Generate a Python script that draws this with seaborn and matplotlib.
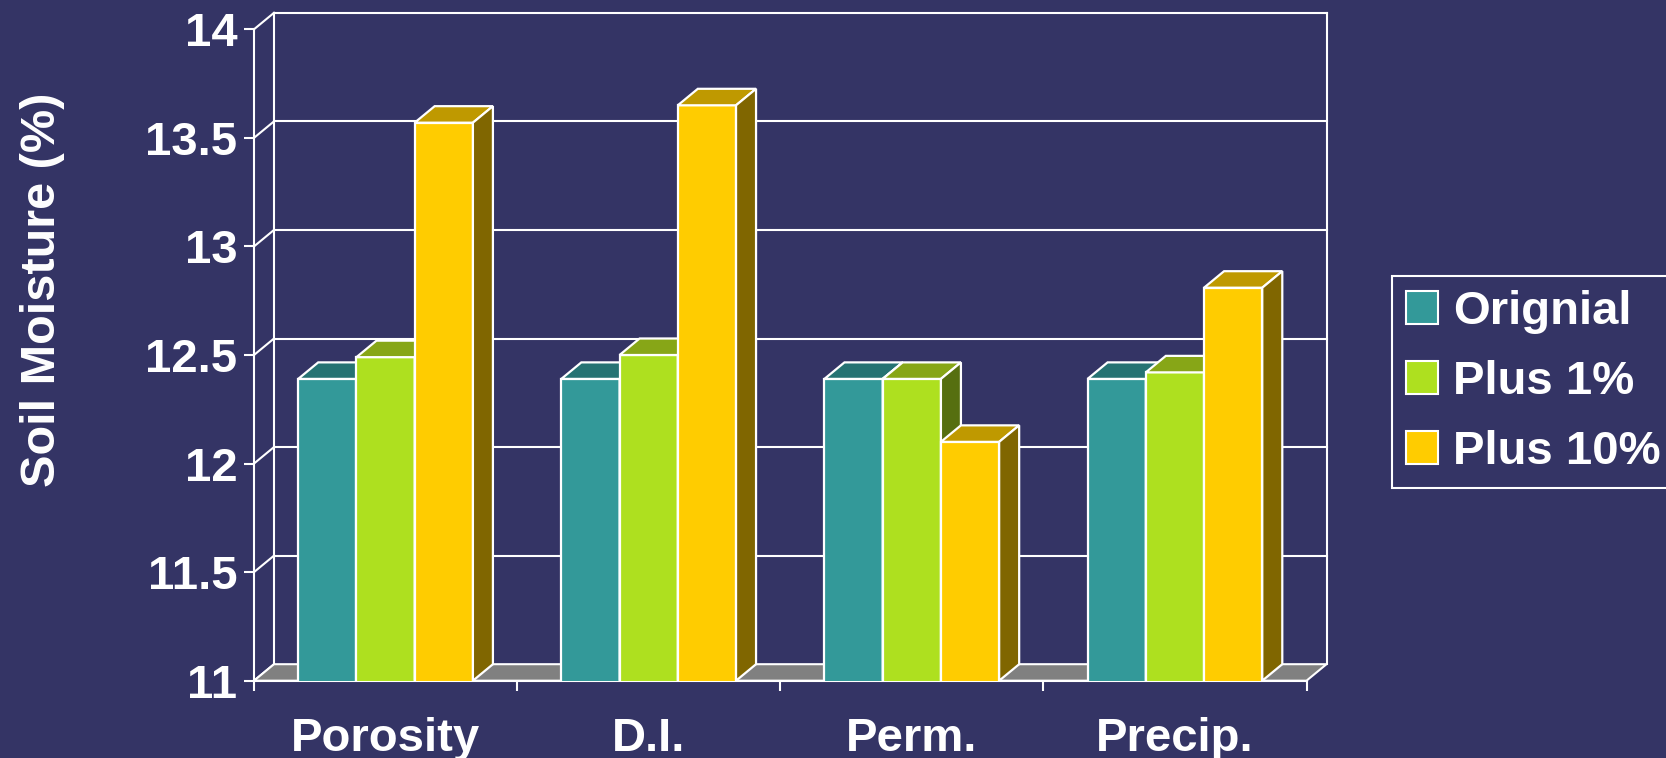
import numpy as np
import pandas as pd
import matplotlib
matplotlib.use("Agg")
import matplotlib.pyplot as plt
from matplotlib.patches import Polygon, Patch, Rectangle
from matplotlib.ticker import FixedLocator
import seaborn as sns

# ---- data ----
categories = ["Porosity", "D.I.", "Perm.", "Precip."]
series_names = ["Orignial", "Plus 1%", "Plus 10%"]
original = [12.39, 12.39, 12.39, 12.39]
plus_1 = [12.49, 12.50, 12.39, 12.42]
plus_10 = [13.57, 13.65, 12.10, 12.81]
y_ticks = [11, 11.5, 12, 12.5, 13, 13.5, 14]
y_tick_labels = ["11", "11.5", "12", "12.5", "13", "13.5", "14"]
y_label = "Soil Moisture (%)"

# ---- style ----
BG = "#343465"
FRONT = ["#339999", "#AEE01F", "#FFCC00"]
TOP = ["#267373", "#87A617", "#BF9900"]
SIDE = ["#1A4D4D", "#566F10", "#806600"]
FLOOR = "#808080"
WHITE = "white"
DEPTH_PX = (20.0, 16.5)   # oblique depth of the 3-D box, in pixels

sns.set_style("dark", {"axes.facecolor": BG, "figure.facecolor": BG})
plt.rcParams["font.family"] = ["Liberation Sans", "DejaVu Sans"]
plt.rcParams["font.weight"] = "bold"

W, H = 1666, 758
fig = plt.figure(figsize=(W / 100, H / 100), dpi=100, facecolor=BG)
left_px, right_px, top_px, bottom_px = 254, 1306.5, 29.3, 680.7
ax = fig.add_axes([left_px / W, 1 - bottom_px / H,
                   (right_px - left_px) / W, (bottom_px - top_px) / H])
ax.set_facecolor(BG)

df = pd.DataFrame({
    "category": np.repeat(categories, len(series_names)),
    "series": series_names * len(categories),
    "value": np.ravel(np.column_stack([original, plus_1, plus_10])),
})

sns.barplot(data=df, x="category", y="value", hue="series",
            hue_order=series_names, order=categories,
            palette=FRONT, width=0.664, errorbar=None,
            edgecolor=WHITE, linewidth=1.6, saturation=1,
            legend=False, ax=ax)

# bar rectangles created by seaborn, ordered left to right
bars = [p for p in ax.patches if isinstance(p, Rectangle) and p.get_width() > 0]
bars.sort(key=lambda p: p.get_x())

ymin, ymax = 11, 14
xmin, xmax = -0.5, len(categories) - 0.5
ax.set_xlim(xmin, xmax)
ax.set_ylim(ymin, ymax)

# depth offset converted into data units
bbox = ax.get_window_extent()
dx = DEPTH_PX[0] * (xmax - xmin) / bbox.width
dy = DEPTH_PX[1] * (ymax - ymin) / bbox.height

line_kw = dict(color=WHITE, lw=1.5, clip_on=False, solid_capstyle="projecting")

# floor
ax.add_patch(Polygon([(xmin, ymin), (xmax, ymin), (xmax + dx, ymin + dy),
                      (xmin + dx, ymin + dy)], closed=True, facecolor=FLOOR,
                     edgecolor=WHITE, lw=1.5, clip_on=False, zorder=1))

# back wall grid lines, side walls
for v in y_ticks:
    if v > ymin:
        ax.plot([xmin + dx, xmax + dx], [v + dy, v + dy], zorder=0.5, **line_kw)
    ax.plot([xmin, xmin + dx], [v, v + dy], zorder=0.5, **line_kw)
ax.plot([xmin + dx, xmin + dx], [ymin + dy, ymax + dy], zorder=0.5, **line_kw)
ax.plot([xmax + dx, xmax + dx], [ymin + dy, ymax + dy], zorder=0.5, **line_kw)

# 3-D tops and right sides of the bars, drawn left to right
front_hex = [c.lower() for c in FRONT]
for k, bar in enumerate(bars):
    x0 = bar.get_x()
    x1 = x0 + bar.get_width()
    h = bar.get_y() + bar.get_height()
    idx = front_hex.index(matplotlib.colors.to_hex(bar.get_facecolor()).lower())
    z = 3 + 0.01 * k
    bar.set_zorder(z)
    ax.add_patch(Polygon([(x0, h), (x1, h), (x1 + dx, h + dy), (x0 + dx, h + dy)],
                         closed=True, facecolor=TOP[idx], edgecolor=WHITE,
                         lw=1.6, clip_on=False, zorder=z, joinstyle="miter"))
    ax.add_patch(Polygon([(x1, ymin), (x1, h), (x1 + dx, h + dy), (x1 + dx, ymin + dy)],
                         closed=True, facecolor=SIDE[idx], edgecolor=WHITE,
                         lw=1.6, clip_on=False, zorder=z, joinstyle="miter"))

# axes lines and ticks
for s in ["top", "right"]:
    ax.spines[s].set_visible(False)
for s in ["left", "bottom"]:
    ax.spines[s].set_color(WHITE)
    ax.spines[s].set_linewidth(1.5)
    ax.spines[s].set_zorder(2)

ax.set_yticks(y_ticks)
ax.set_yticklabels(y_tick_labels)
ax.xaxis.set_minor_locator(FixedLocator(np.arange(xmin, xmax + 0.01, 1.0)))
ax.tick_params(axis="y", colors=WHITE, length=7.5, width=1.5, pad=4.5,
               labelsize=34, left=True)
ax.tick_params(axis="x", which="major", length=0, pad=26, labelsize=34,
               labelcolor=WHITE)
ax.tick_params(axis="x", which="minor", length=7.5, width=1.5, color=WHITE,
               bottom=True)
for lab in ax.get_xticklabels() + ax.get_yticklabels():
    lab.set_fontweight("bold")
    lab.set_color(WHITE)
ax.set_xlabel("")
ax.set_ylabel("")
ax.grid(False)

fig.text(43 / W, 1 - 290 / H, y_label, rotation=90, ha="center", va="center",
         fontsize=35, fontweight="bold", color=WHITE)

handles = [Patch(facecolor=c, edgecolor=WHITE, lw=1.5) for c in FRONT]
leg = fig.legend(handles, series_names, loc="center left",
                 bbox_to_anchor=(1392 / W, 1 - 382 / H), frameon=True,
                 fancybox=False, facecolor=BG, edgecolor=WHITE, framealpha=1,
                 fontsize=34, handlelength=0.68, handleheight=0.68,
                 handletextpad=0.32, borderpad=0.3, labelspacing=0.55,
                 borderaxespad=0)
leg.get_frame().set_linewidth(1.5)
for t in leg.get_texts():
    t.set_color(WHITE)
    t.set_fontweight("bold")

fig.savefig("out.png", dpi=100, facecolor=BG)
